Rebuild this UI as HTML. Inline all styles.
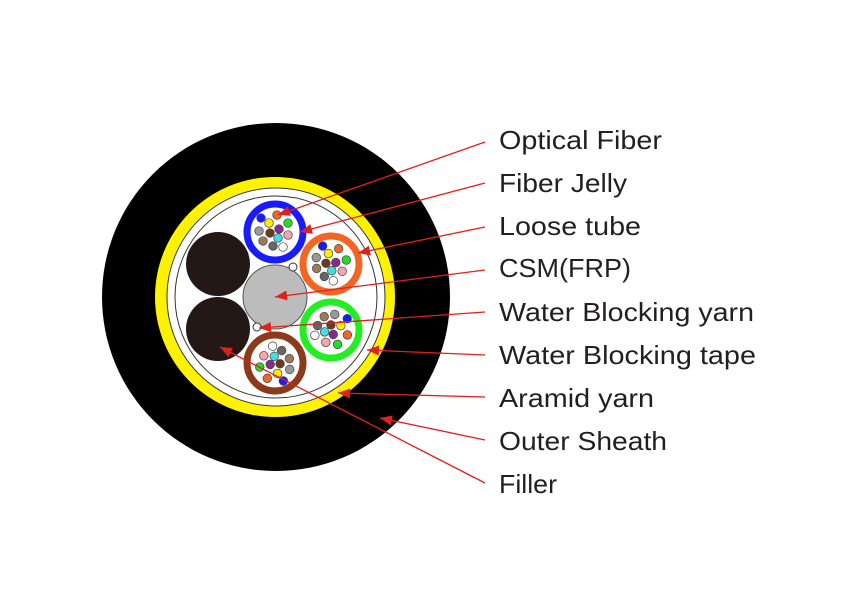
<!DOCTYPE html>
<html><head><meta charset="utf-8"><style>
html,body{margin:0;padding:0;background:#fff}
svg{display:block}
text{font-family:"Liberation Sans",sans-serif;font-size:26px;fill:#231f20}
</style></head><body>
<svg width="861" height="610" viewBox="0 0 861 610" xmlns="http://www.w3.org/2000/svg">
<defs>
<g id="fib" stroke="#444" stroke-width="0.7">
<circle cx="-14" cy="-14" r="4.3" fill="#1a1aff"/>
<circle cx="2" cy="-17" r="4.3" fill="#f26522"/>
<circle cx="-6" cy="-9" r="4.3" fill="#ffee00"/>
<circle cx="13" cy="-9" r="4.3" fill="#22dd22"/>
<circle cx="-16" cy="-1" r="4.3" fill="#999"/>
<circle cx="-5" cy="1" r="4.3" fill="#6b3a1e"/>
<circle cx="4" cy="-3" r="4.3" fill="#8b2a8b"/>
<circle cx="13" cy="3" r="4.3" fill="#f4a6b0"/>
<circle cx="3" cy="6" r="4.3" fill="#44dddd"/>
<circle cx="-12" cy="9" r="4.3" fill="#a0785a"/>
<circle cx="-2" cy="14" r="4.3" fill="#666"/>
<circle cx="8" cy="15" r="4.3" fill="#fff"/>
</g>
</defs>
<circle cx="276" cy="297" r="174" fill="#000"/>
<circle cx="275" cy="297" r="120" fill="#fff200"/>
<circle cx="276" cy="297" r="109" fill="#fff" stroke="#333" stroke-width="1"/>
<circle cx="276" cy="297" r="101" fill="none" stroke="#333" stroke-width="1"/>
<circle cx="218" cy="264" r="32" fill="#231815"/>
<circle cx="218" cy="329" r="32" fill="#231815"/>
<circle cx="275" cy="297" r="32" fill="#bcbcbc" stroke="#555" stroke-width="1"/>
<circle cx="293" cy="267" r="4" fill="#fff" stroke="#333" stroke-width="1"/>
<circle cx="257" cy="327" r="4" fill="#fff" stroke="#333" stroke-width="1"/>
<circle cx="275" cy="232" r="28" fill="#fff" stroke="#1a1aff" stroke-width="7"/>
<circle cx="331" cy="264" r="28" fill="#fff" stroke="#f26522" stroke-width="7"/>
<circle cx="331" cy="330" r="28" fill="#fff" stroke="#22ee22" stroke-width="7"/>
<circle cx="275" cy="363" r="28" fill="#fff" stroke="#8b3a1a" stroke-width="7"/>
<use href="#fib" x="275" y="232"/>
<use href="#fib" transform="translate(331 264) rotate(20)"/>
<use href="#fib" transform="translate(331 330) rotate(100)"/>
<use href="#fib" transform="translate(275 363) rotate(200)"/>
<g stroke="#e0201b" stroke-width="1.3" fill="#e0201b">
<line x1="485" y1="142" x2="278" y2="215"/>
<line x1="485" y1="183" x2="300" y2="232"/>
<line x1="485" y1="227" x2="358" y2="253"/>
<line x1="485" y1="270" x2="275" y2="297"/>
<line x1="485" y1="312" x2="259" y2="328"/>
<line x1="485" y1="355" x2="367" y2="350"/>
<line x1="485" y1="397" x2="338" y2="393"/>
<line x1="485" y1="440" x2="380" y2="418"/>
<line x1="485" y1="483" x2="220" y2="347"/>
</g>
<g fill="#e0201b">
<polygon points="0,0 12,-5 12,5" transform="translate(278 215) rotate(-19.4)"/>
<polygon points="0,0 12,-5 12,5" transform="translate(300 232) rotate(-14.8)"/>
<polygon points="0,0 12,-5 12,5" transform="translate(358 253) rotate(-11.6)"/>
<polygon points="0,0 12,-5 12,5" transform="translate(275 297) rotate(-7.3)"/>
<polygon points="0,0 12,-5 12,5" transform="translate(259 328) rotate(-4)"/>
<polygon points="0,0 12,-5 12,5" transform="translate(367 350) rotate(2.4)"/>
<polygon points="0,0 12,-5 12,5" transform="translate(338 393) rotate(1.6)"/>
<polygon points="0,0 12,-5 12,5" transform="translate(380 418) rotate(11.8)"/>
<polygon points="0,0 12,-5 12,5" transform="translate(220 347) rotate(27.2)"/>
</g>
<g>
<text x="499" y="149" textLength="163" lengthAdjust="spacingAndGlyphs">Optical Fiber</text>
<text x="499" y="192" textLength="128" lengthAdjust="spacingAndGlyphs">Fiber Jelly</text>
<text x="499" y="235" textLength="142" lengthAdjust="spacingAndGlyphs">Loose tube</text>
<text x="499" y="277" textLength="132" lengthAdjust="spacingAndGlyphs">CSM(FRP)</text>
<text x="499" y="321" textLength="255" lengthAdjust="spacingAndGlyphs">Water Blocking yarn</text>
<text x="499" y="364" textLength="257" lengthAdjust="spacingAndGlyphs">Water Blocking tape</text>
<text x="499" y="407" textLength="155" lengthAdjust="spacingAndGlyphs">Aramid yarn</text>
<text x="499" y="450" textLength="168" lengthAdjust="spacingAndGlyphs">Outer Sheath</text>
<text x="499" y="493" textLength="58" lengthAdjust="spacingAndGlyphs">Filler</text>
</g>
</svg>
</body></html>
